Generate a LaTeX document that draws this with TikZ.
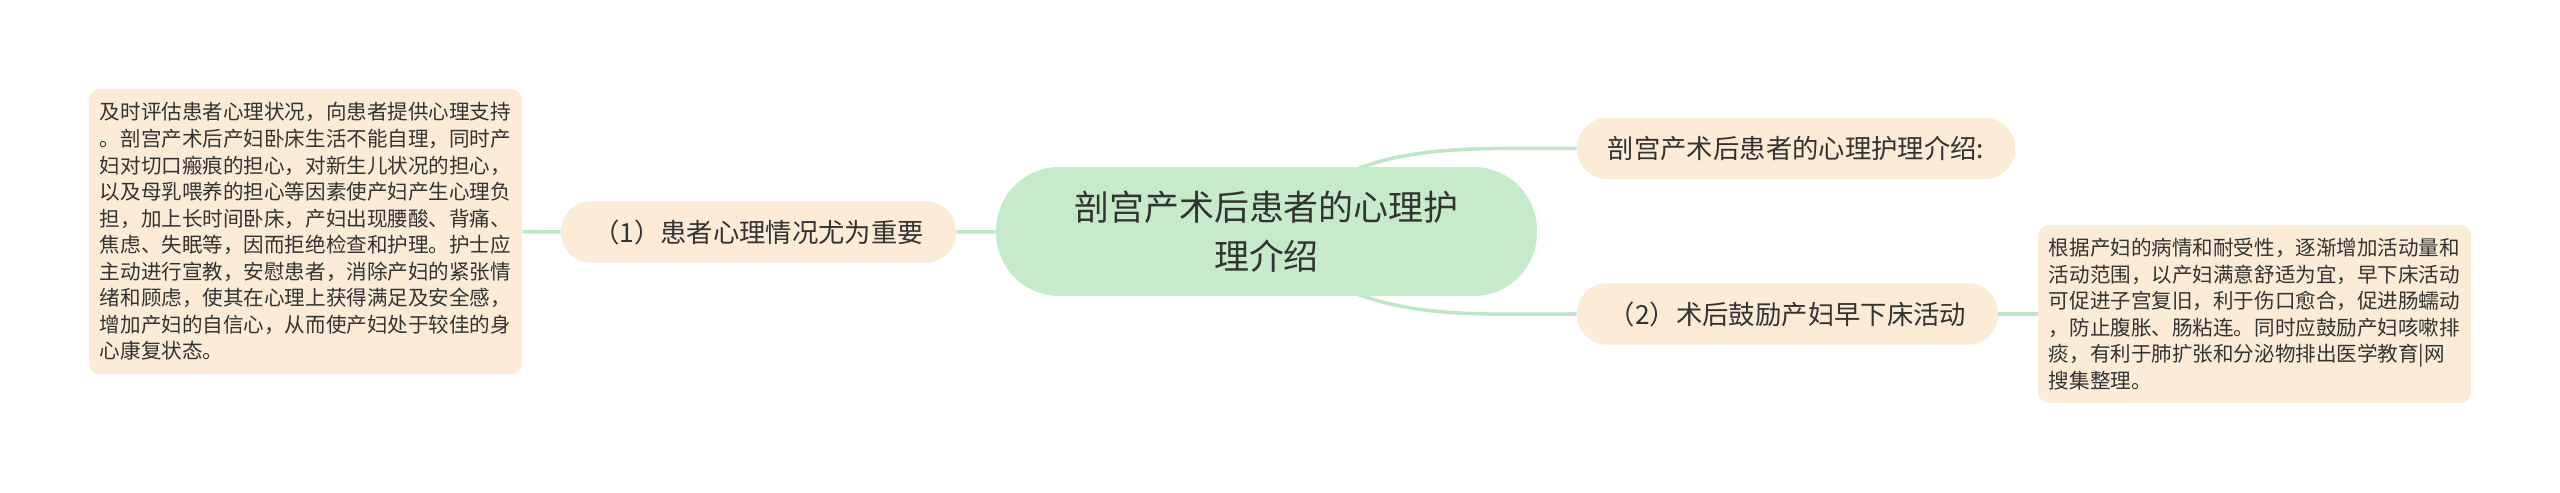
\documentclass[tikz,border=0pt]{standalone}
\usepackage{fontspec}
\newfontfamily\cjk{Noto Sans CJK SC}
\usetikzlibrary{backgrounds}
\definecolor{leafbg}{HTML}{FCEBD6}
\definecolor{rootbg}{HTML}{C6EBCB}
\definecolor{linkcol}{HTML}{BFE6C9}
\definecolor{inkcol}{HTML}{333333}

\begin{document}
\begin{tikzpicture}[x=0.02cm, y=-0.02cm,
	topic/.style={fill=rootbg, rounded corners=36pt, minimum width=10.82cm, minimum height=2.58cm, align=center, text=inkcol, font=\cjk\fontsize{19.9}{27.9}\selectfont},
	branch/.style={fill=leafbg, rounded corners=17pt, minimum height=1.23cm, text=inkcol, font=\cjk\fontsize{15}{18}\selectfont},
	note/.style={fill=leafbg, rounded corners=6pt, minimum width=8.66cm, align=left, text=inkcol, font=\cjk\fontsize{11.7}{15.1}\selectfont},
	link/.style={draw=linkcol, line width=2pt}]
		\useasboundingbox (0,0) rectangle (2560,493);
		\draw (1266.5,231.5) node[topic] (A) {剖宫产术后患者的心理护\\理介绍};
		\draw (758.5,232) node[branch, minimum width=7.9cm] (B) {（1）患者心理情况尤为重要};
		\draw (305.5,231.5) node[note, minimum height=5.7cm] (C) {及时评估患者心理状况，向患者提供心理支持\\。剖宫产术后产妇卧床生活不能自理，同时产\\妇对切口瘢痕的担心，对新生儿状况的担心，\\以及母乳喂养的担心等因素使产妇产生心理负\\担，加上长时间卧床，产妇出现腰酸、背痛、\\焦虑、失眠等，因而拒绝检查和护理。护士应\\主动进行宣教，安慰患者，消除产妇的紧张情\\绪和顾虑，使其在心理上获得满足及安全感，\\增加产妇的自信心，从而使产妇处于较佳的身\\心康复状态。};
		\draw (1796,148.5) node[branch, minimum width=8.76cm] (D) {剖宫产术后患者的心理护理介绍:};
		\draw (1787.5,314) node[branch, minimum width=8.42cm] (E) {（2）术后鼓励产妇早下床活动};
		\draw (2254.5,314) node[note, minimum height=3.56cm] (F) {根据产妇的病情和耐受性，逐渐增加活动量和\\活动范围，以产妇满意舒适为宜，早下床活动\\可促进子宫复旧，利于伤口愈合，促进肠蠕动\\，防止腹胀、肠粘连。同时应鼓励产妇咳嗽排\\痰，有利于肺扩张和分泌物排出医学教育|网\\搜集整理。};

		\begin{scope}[on background layer]
		\path[link]
		(C) edge (B)
		(B) edge (A)
		(E) edge (F)
		;
		\draw[link] (A.center) .. controls (1350,140) and (1450,148.5) .. (D.west);
		\draw[link] (A.center) .. controls (1350,323) and (1450,314) .. (E.west);
		\end{scope}
	\end{tikzpicture}
\end{document}
